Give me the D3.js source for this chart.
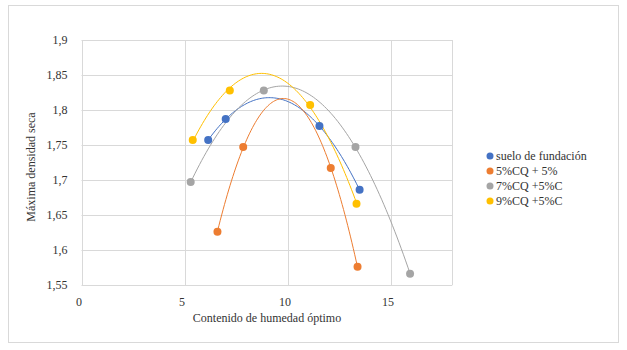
<!DOCTYPE html>
<html><head><meta charset="utf-8">
<script src="https://cdn.jsdelivr.net/npm/d3@7"></script>
<style>body{margin:0;background:#fff;} svg{display:block;}</style>
</head><body>
<script>
const seriesNames = ["suelo de fundación", "5%CQ + 5%", "7%CQ +5%C", "9%CQ +5%C"];
const seriesColors = ["#4472C4", "#ED7D31", "#A5A5A5", "#FFC000"];
const sueloX = [6.15, 7.0, 11.55, 13.5];
const sueloY = [1.757, 1.787, 1.777, 1.686];
const cq5X = [6.6, 7.85, 12.1, 13.4];
const cq5Y = [1.626, 1.747, 1.717, 1.576];
const cq7X = [5.3, 8.85, 13.3, 15.95];
const cq7Y = [1.697, 1.828, 1.747, 1.566];
const cq9X = [5.4, 7.2, 11.1, 13.35];
const cq9Y = [1.757, 1.828, 1.807, 1.666];
const xTicks = [0, 5, 10, 15];
const yTicks = [1.55, 1.6, 1.65, 1.7, 1.75, 1.8, 1.85, 1.9];

const W = 627, H = 350;
const svg = d3.select("body").append("svg").attr("width", W).attr("height", H);
const font = "'Liberation Serif','Times New Roman',serif";

svg.append("rect").attr("x", 8.5).attr("y", 5.5).attr("width", 610).attr("height", 337)
  .attr("fill", "#fff").attr("stroke", "#D9D9D9");

const x = d3.scaleLinear().domain([0, 18]).range([81.5, 452.3]);
const y = d3.scaleLinear().domain([1.55, 1.9]).range([285, 40]);

const grid = svg.append("g");
grid.selectAll(".hy").data(yTicks).join("line")
  .attr("x1", x(0)).attr("x2", x(18))
  .attr("y1", d => Math.round(y(d)) + 0.5).attr("y2", d => Math.round(y(d)) + 0.5)
  .attr("stroke", "#D9D9D9");
grid.selectAll(".vx").data(xTicks.concat([18])).join("line")
  .attr("y1", y(1.55)).attr("y2", y(1.9))
  .attr("x1", d => Math.round(x(d)) + 0.5).attr("x2", d => Math.round(x(d)) + 0.5)
  .attr("stroke", "#D9D9D9");

const yAxis = d3.axisLeft(y).tickValues(yTicks).tickSize(0).tickPadding(14)
  .tickFormat(d => d3.format(".2~f")(d).replace(".", ","));
svg.append("g").attr("transform", `translate(${x(0)},0)`).call(yAxis)
  .call(g => g.select(".domain").remove())
  .call(g => g.selectAll("text").attr("font-family", font).attr("font-size", 12).attr("fill", "#333"));

const xAxis = d3.axisBottom(x).tickValues(xTicks).tickSize(0).tickPadding(12).tickFormat(d3.format("d"));
svg.append("g").attr("transform", `translate(-3,${y(1.55)})`).call(xAxis)
  .call(g => g.select(".domain").remove())
  .call(g => g.selectAll("text").attr("font-family", font).attr("font-size", 12).attr("fill", "#333"));

svg.append("text").attr("x", 267).attr("y", 322).attr("text-anchor", "middle")
  .attr("font-family", font).attr("font-size", 12).attr("fill", "#333")
  .text("Contenido de humedad óptimo");
svg.append("text").attr("transform", "translate(35,167) rotate(-90)").attr("text-anchor", "middle")
  .attr("font-family", font).attr("font-size", 12).attr("fill", "#333")
  .text("Máxima densidad seca");

function polyfit(xs, ys, deg) {
  const n = deg + 1;
  const A = Array.from({length: n}, () => new Array(n + 1).fill(0));
  for (let i = 0; i < xs.length; i++) {
    for (let r = 0; r < n; r++) {
      for (let c = 0; c < n; c++) A[r][c] += Math.pow(xs[i], r + c);
      A[r][n] += ys[i] * Math.pow(xs[i], r);
    }
  }
  for (let i = 0; i < n; i++) {
    let p = i;
    for (let k = i + 1; k < n; k++) if (Math.abs(A[k][i]) > Math.abs(A[p][i])) p = k;
    [A[i], A[p]] = [A[p], A[i]];
    for (let k = 0; k < n; k++) if (k !== i) {
      const f = A[k][i] / A[i][i];
      for (let c = i; c <= n; c++) A[k][c] -= f * A[i][c];
    }
  }
  return A.map((row, i) => row[n] / row[i]);
}

const series = [[sueloX, sueloY], [cq5X, cq5Y], [cq7X, cq7Y], [cq9X, cq9Y]];
const line = d3.line().x(d => x(d[0])).y(d => y(d[1]));
series.forEach(([xs, ys], i) => {
  const coef = polyfit(xs, ys, 2);
  const f = v => coef.reduce((s, c, k) => s + c * Math.pow(v, k), 0);
  const x0 = d3.min(xs), x1 = d3.max(xs);
  const pts = d3.range(0, 101).map(k => { const v = x0 + (x1 - x0) * k / 100; return [v, f(v)]; });
  svg.append("path").datum(pts).attr("d", line).attr("fill", "none")
    .attr("stroke", seriesColors[i]).attr("stroke-width", 1);
});
series.forEach(([xs, ys], i) => {
  svg.append("g").selectAll("circle").data(xs.map((v, k) => [v, ys[k]])).join("circle")
    .attr("cx", d => x(d[0])).attr("cy", d => y(d[1])).attr("r", 4)
    .attr("fill", seriesColors[i]);
});

const leg = svg.append("g");
const legY = [156, 171, 186, 201];
seriesNames.forEach((name, i) => {
  leg.append("circle").attr("cx", 490).attr("cy", legY[i]).attr("r", 3.5).attr("fill", seriesColors[i]);
  leg.append("text").attr("x", 496).attr("y", legY[i] + 4).attr("font-family", font)
    .attr("font-size", 12).attr("fill", "#333").text(name);
});
</script>
</body></html>
